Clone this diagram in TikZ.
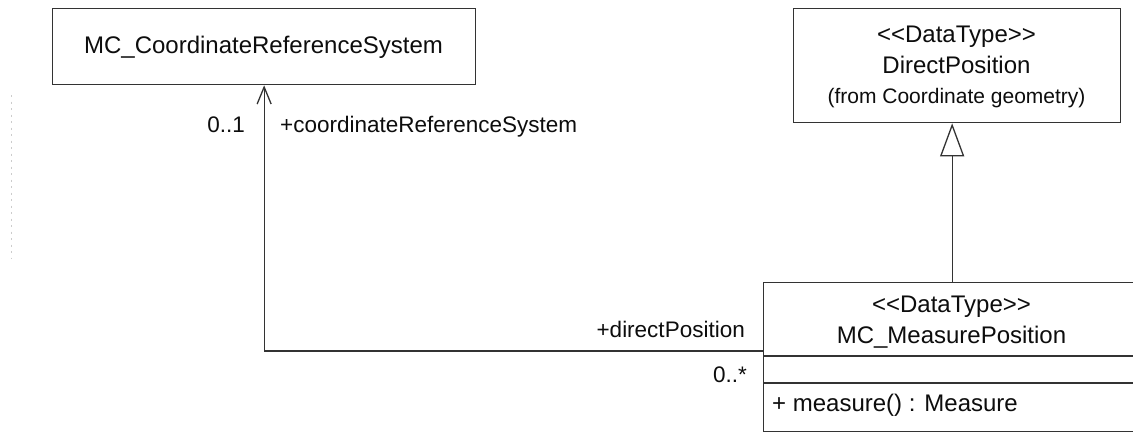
\documentclass[tikz,border=0pt]{standalone}
\usepackage{fontspec}
\setmainfont{Liberation Sans}
\usetikzlibrary{arrows.meta,calc}
\begin{document}
\begin{tikzpicture}[x=1pt,y=-1pt,
  umlbox/.style={draw=black!80,line width=1.3pt,rectangle,inner sep=0pt,anchor=north west},
  big/.style={font=\fontsize{24}{28}\selectfont,text=black!95,inner sep=0pt},
  lbl/.style={font=\fontsize{22.5}{26}\selectfont,text=black!95,inner sep=0pt},
  small/.style={font=\fontsize{21}{25}\selectfont,text=black!95,inner sep=0pt},
  assoc/.style={draw=black!80,line width=1.3pt,-{Straight Barb[length=17pt,width=14pt,line width=1.3pt]}},
  gen/.style={draw=black!80,line width=1.3pt,-{Triangle[open,length=33pt,width=24pt,line width=1.3pt]}}]
\useasboundingbox[fill=white] (0,0) rectangle (1133,432);
\clip (0,0) rectangle (1133,432);

% faint marks along the left margin
\draw[gray!40,line width=1pt,dash pattern=on 2pt off 4.5pt] (11,95) -- (11,258);

% classes
\node[umlbox,minimum width=423pt,minimum height=76pt] (crs) at (52,8) {};
\node[big,anchor=base] (crsname) at (263.5,53) {MC\_CoordinateReferenceSystem};

\node[umlbox,minimum width=327pt,minimum height=114pt] (dp) at (793,8) {};
\node[big,anchor=base] (dpst) at (956.5,42) {<{}<DataType>{}>};
\node[big,anchor=base] (dpname) at (956.5,73) {DirectPosition};
\node[small,anchor=base] (dppkg) at (956.5,103) {(from Coordinate geometry)};

\node[umlbox,minimum width=377pt,minimum height=149pt] (mp) at (763,282) {};
\node[big,anchor=base] (mpst) at (951.5,312) {<{}<DataType>{}>};
\node[big,anchor=base] (mpname) at (951.5,343) {MC\_MeasurePosition};
\draw[draw=black!80,line width=1.3pt] ($(mp.north west)+(0,74)$) -- ($(mp.north east)+(0,74)$);
\draw[draw=black!80,line width=1.3pt] ($(mp.north west)+(0,101)$) -- ($(mp.north east)+(0,101)$);
\node[big,anchor=base west] (mpop) at (772,411) {+ measure() : Measure};

% association
\coordinate (assocend) at ($(mp.north west)+(0,69)$);
\draw[assoc] (assocend) -| (crs.south);
\node[lbl,anchor=base east] (m1) at (245,132) {0..1};
\node[lbl,anchor=base west] (r1) at (280,132) {+coordinateReferenceSystem};
\node[lbl,anchor=base east] (r2) at (745,337) {+directPosition};
\node[lbl,anchor=base east] (m2) at (747,382) {0..*};

% generalization
\draw[gen] (mp.north) -- (mp.north |- dp.south);
\end{tikzpicture}
\end{document}
